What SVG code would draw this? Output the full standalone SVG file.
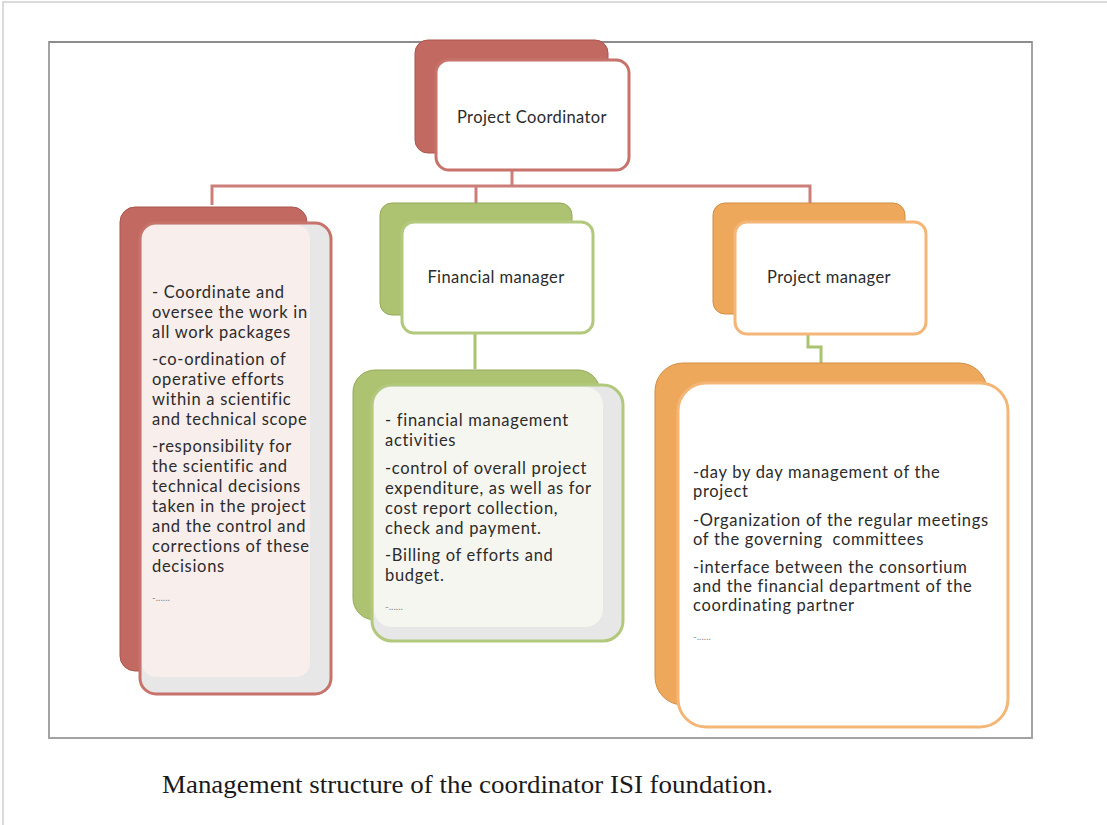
<svg xmlns="http://www.w3.org/2000/svg" width="1107" height="825" viewBox="0 0 1107 825">
  <style>
    .body { font-family: Lato, "Liberation Sans", sans-serif; font-size: 16.5px; letter-spacing: 0.7px; fill: #2b2b2b; }
    .head { font-family: Lato, "Liberation Sans", sans-serif; font-size: 16.5px; letter-spacing: 0.4px; fill: #2b2b2b; text-anchor: middle; }
    .more { font-family: Lato, "Liberation Sans", sans-serif; font-size: 10px; fill: #8a8a8a; }
    .red-back { fill: #c26a62; stroke: #a9554e; stroke-width: 1; }
    .red-front { stroke: #c7726b; stroke-width: 3; }
    .grn-back { fill: #adc371; stroke: #93a95a; stroke-width: 1; }
    .grn-front { stroke: #b2c97d; stroke-width: 3; }
    .org-back { fill: #eea85c; stroke: #d18d45; stroke-width: 1; }
    .org-front { stroke: #f4b677; stroke-width: 3; }
    .link-red { fill: none; stroke: #cc7f79; stroke-width: 3; }
    .link-grn { fill: none; stroke: #a9c36e; stroke-width: 3; }
    .caption { font-family: "Liberation Serif", serif; font-size: 25px; fill: #1a1a1a; }
  </style>

  <!-- page background and edge -->
  <rect x="0" y="0" width="1107" height="825" fill="#ffffff"/>
  <path d="M3,825 V2 H1107" fill="none" stroke="#cfcfcf" stroke-width="1.5"/>

  <!-- figure frame -->
  <rect x="49" y="42" width="983" height="696" fill="#ffffff" stroke="#a3a3a3" stroke-width="2"/>
  <line x1="49" y1="42" x2="1032" y2="42" stroke="#8c8c8c" stroke-width="2"/>

  <!-- connectors -->
  <g id="connectors">
    <path class="link-red" d="M512,170 V186"/>
    <path class="link-red" d="M212,205 V186 H810 V203"/>
    <path class="link-red" d="M476,186 V203"/>
    <path class="link-grn" d="M475,334 V369"/>
    <path class="link-grn" d="M808,334 V347 H821 V363"/>
  </g>

  <!-- top node -->
  <g id="project-coordinator">
    <rect class="red-back" x="415" y="40" width="193" height="113" rx="13"/>
    <rect class="red-front" x="436" y="60" width="193" height="110" rx="13" fill="#ffffff"/>
    <text class="head" x="532" y="123">Project Coordinator</text>
  </g>

  <!-- coordinator duties -->
  <g id="coordinator-duties">
    <rect class="red-back" x="120" y="207" width="187" height="464" rx="15"/>
    <rect class="red-front" x="140" y="223" width="191" height="471" rx="16" fill="#e7e7e7"/>
    <rect x="142" y="225" width="168" height="452" rx="14" fill="#f8eeec"/>
    <text class="body" x="152" y="298">- Coordinate and</text>
    <text class="body" x="152" y="318">oversee the work in</text>
    <text class="body" x="152" y="338">all work packages</text>
    <text class="body" x="152" y="365">-co-ordination of</text>
    <text class="body" x="152" y="385">operative efforts</text>
    <text class="body" x="152" y="405">within a scientific</text>
    <text class="body" x="152" y="425">and technical scope</text>
    <text class="body" x="152" y="452">-responsibility for</text>
    <text class="body" x="152" y="472">the scientific and</text>
    <text class="body" x="152" y="492">technical decisions</text>
    <text class="body" x="152" y="512">taken in the project</text>
    <text class="body" x="152" y="532">and the control and</text>
    <text class="body" x="152" y="552">corrections of these</text>
    <text class="body" x="152" y="572">decisions</text>
    <text class="more" x="152" y="601">-......</text>
  </g>

  <!-- financial manager -->
  <g id="financial-manager">
    <rect class="grn-back" x="380" y="203" width="192" height="112" rx="12"/>
    <rect class="grn-front" x="402" y="222" width="191" height="111" rx="12" fill="#ffffff"/>
    <text class="head" x="496" y="283">Financial manager</text>
  </g>

  <!-- financial duties -->
  <g id="financial-duties">
    <rect class="grn-back" x="353" y="370" width="247" height="250" rx="22"/>
    <rect class="grn-front" x="372" y="385" width="251" height="256" rx="20" fill="#e7e7e7"/>
    <rect x="374" y="387" width="229" height="240" rx="18" fill="#f6f6f1"/>
    <text class="body" x="385" y="426">- financial management</text>
    <text class="body" x="385" y="446">activities</text>
    <text class="body" x="385" y="474">-control of overall project</text>
    <text class="body" x="385" y="494">expenditure, as well as for</text>
    <text class="body" x="385" y="514">cost report collection,</text>
    <text class="body" x="385" y="534">check and payment.</text>
    <text class="body" x="385" y="561">-Billing of efforts and</text>
    <text class="body" x="385" y="581">budget.</text>
    <text class="more" x="385" y="610">-......</text>
  </g>

  <!-- project manager -->
  <g id="project-manager">
    <rect class="org-back" x="713" y="203" width="192" height="111" rx="12"/>
    <rect class="org-front" x="735" y="222" width="191" height="112" rx="12" fill="#ffffff"/>
    <text class="head" x="829" y="283">Project manager</text>
  </g>

  <!-- project manager duties -->
  <g id="manager-duties">
    <rect class="org-back" x="655" y="363" width="332" height="342" rx="28"/>
    <rect class="org-front" x="678" y="383" width="330" height="344" rx="28" fill="#ffffff"/>
    <text class="body" x="693" y="478">-day by day management of the</text>
    <text class="body" x="693" y="497">project</text>
    <text class="body" x="693" y="526">-Organization of the regular meetings</text>
    <text class="body" x="693" y="545" xml:space="preserve">of the governing  committees</text>
    <text class="body" x="693" y="573">-interface between the consortium</text>
    <text class="body" x="693" y="592">and the financial department of the</text>
    <text class="body" x="693" y="611">coordinating partner</text>
    <text class="more" x="693" y="640">-......</text>
  </g>

  <!-- caption -->
  <text class="caption" x="162" y="793" textLength="611" lengthAdjust="spacingAndGlyphs">Management structure of the coordinator ISI foundation.</text>
</svg>
